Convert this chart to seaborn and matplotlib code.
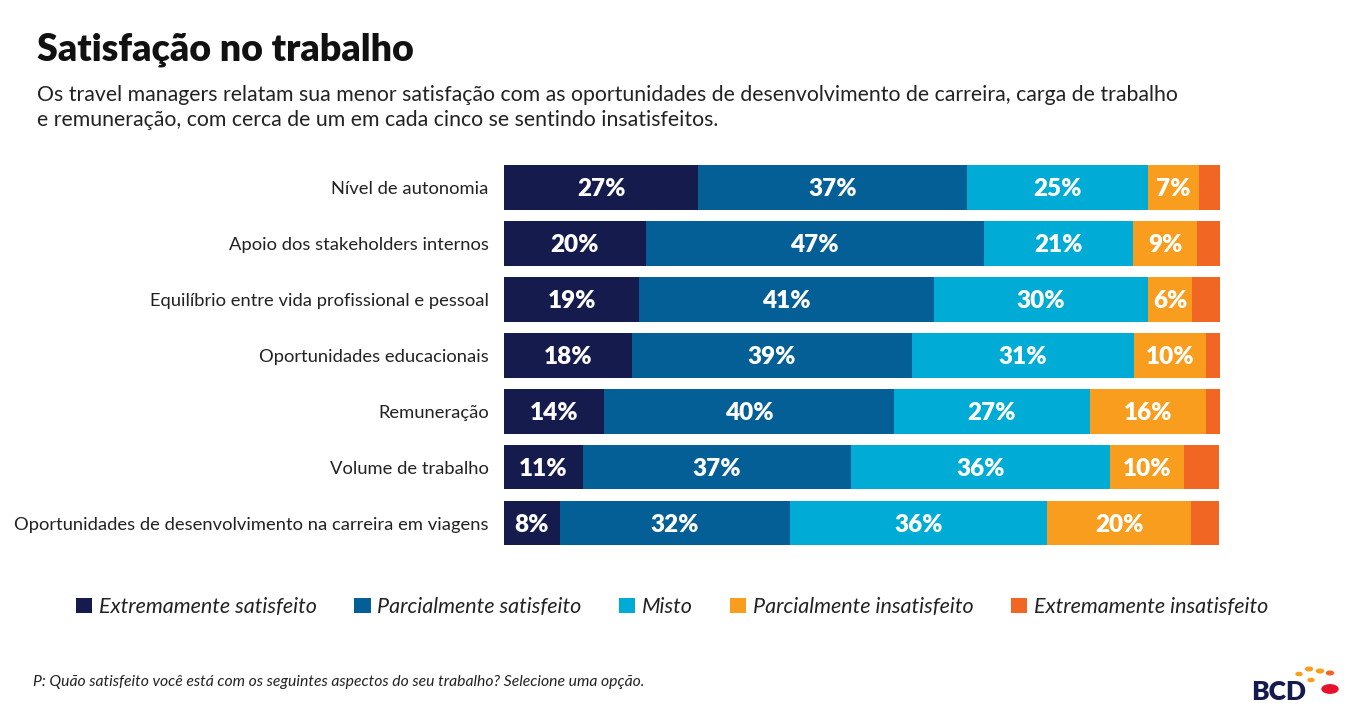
import numpy as np
import pandas as pd
import matplotlib
matplotlib.use("Agg")
import matplotlib.pyplot as plt
from matplotlib.patches import Patch, Circle
import seaborn as sns

categories = [
    "Nível de autonomia",
    "Apoio dos stakeholders internos",
    "Equilíbrio entre vida profissional e pessoal",
    "Oportunidades educacionais",
    "Remuneração",
    "Volume de trabalho",
    "Oportunidades de desenvolvimento na carreira em viagens",
]
series_names = [
    "Extremamente satisfeito",
    "Parcialmente satisfeito",
    "Misto",
    "Parcialmente insatisfeito",
    "Extremamente insatisfeito",
]
# segment lengths (percent)
extremamente_satisfeito = [27.1, 19.8, 18.9, 17.9, 14.0, 11.0, 7.8]
parcialmente_satisfeito = [37.6, 47.2, 41.1, 39.1, 40.4, 37.4, 32.1]
misto = [25.3, 20.9, 30.0, 31.0, 27.5, 36.3, 36.0]
parcialmente_insatisfeito = [7.0, 8.9, 6.1, 10.1, 16.2, 10.3, 20.1]
extremamente_insatisfeito = [3.0, 3.2, 3.9, 2.0, 2.0, 4.9, 3.9]
# labels printed in the bars
labels_es = [27, 20, 19, 18, 14, 11, 8]
labels_ps = [37, 47, 41, 39, 40, 37, 32]
labels_mi = [25, 21, 30, 31, 27, 36, 36]
labels_pi = [7, 9, 6, 10, 16, 10, 20]

colors = ["#161b4e", "#045f97", "#00abd6", "#f99d1e", "#f26623"]

series = [extremamente_satisfeito, parcialmente_satisfeito, misto,
          parcialmente_insatisfeito, extremamente_insatisfeito]
labels = [labels_es, labels_ps, labels_mi, labels_pi, None]

sns.set_theme(style="white")
plt.rcParams["font.family"] = ["Lato", "DejaVu Sans"]

fig = plt.figure(figsize=(13.47, 7.10), dpi=100)
fig.patch.set_facecolor("white")
ax = fig.add_axes([504 / 1347, 1 - 551 / 710, 716 / 1347, 391.5 / 710])

cum = np.cumsum(np.array(series), axis=0)
for i in range(len(series) - 1, -1, -1):
    df = pd.DataFrame({"cat": categories, "val": cum[i]})
    sns.barplot(data=df, x="val", y="cat", color=colors[i], orient="h",
                width=0.8, ax=ax, saturation=1, order=categories,
                linewidth=0)

for i in range(len(series)):
    if labels[i] is None:
        continue
    starts = cum[i] - np.array(series[i])
    for j, cat in enumerate(categories):
        xc = starts[j] + series[i][j] / 2
        ax.text(xc, j + 0.03, f"{labels[i][j]}%", ha="center", va="center",
                color="white", fontsize=17.5, fontweight="heavy")

ax.set_xlim(0, 100)
ax.set_ylim(6.5, -0.5)
ax.set_xlabel("")
ax.set_ylabel("")
ax.set_xticks([])
ax.tick_params(axis="y", length=0, pad=11, labelsize=13.2)
for lab in ax.get_yticklabels():
    lab.set_color("#222222")
for s in ax.spines.values():
    s.set_visible(False)

fig.text(37 / 1347, 1 - 50 / 710, "Satisfação no trabalho", fontsize=27,
         fontweight="heavy", color="#111111", va="center", ha="left")
fig.text(37 / 1347, 1 - 95 / 710,
         "Os travel managers relatam sua menor satisfação com as oportunidades de desenvolvimento de carreira, carga de trabalho",
         fontsize=15.3, color="#222222", va="center", ha="left")
fig.text(37 / 1347, 1 - 120 / 710,
         "e remuneração, com cerca de um em cada cinco se sentindo insatisfeitos.",
         fontsize=15.3, color="#222222", va="center", ha="left")

handles = [Patch(facecolor=c, edgecolor="none") for c in colors]
leg = fig.legend(handles, series_names, loc="center", ncol=5,
                 bbox_to_anchor=(672 / 1347, 1 - 607 / 710), frameon=False,
                 handlelength=0.75, handleheight=0.75, handletextpad=0.3,
                 columnspacing=1.75, prop={"style": "italic", "size": 15.5})
for t in leg.get_texts():
    t.set_color("#222222")

fig.text(33 / 1347, 1 - 682 / 710,
         "P: Quão satisfeito você está com os seguintes aspectos do seu trabalho? Selecione uma opção.",
         fontsize=11.3, style="italic", color="#222222", va="center", ha="left")

# BCD logo
fig.text(1251 / 1347, 1 - 692 / 710, "BCD", fontsize=19, fontweight="heavy",
         color="#161b4e", va="center", ha="left")
for (px, py, r, c) in [(1330, 689, 8, "#e8112d"), (1320, 671, 3.5, "#f99d1e"),
                       (1309, 669, 3.5, "#f99d1e"), (1330, 673, 3.5, "#f26623"),
                       (1299, 674, 3, "#f99d1e"), (1311, 680, 3, "#f99d1e")]:
    fig.patches.append(Circle((px / 1347, 1 - py / 710), r / 1347,
                              transform=fig.transFigure, color=c))

fig.savefig("out.png", dpi=100, facecolor="white")
